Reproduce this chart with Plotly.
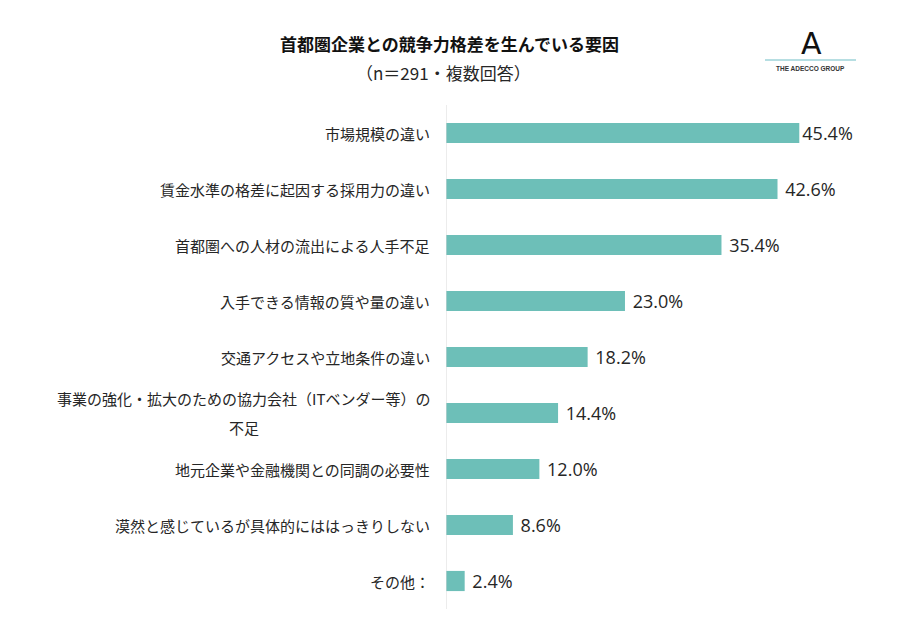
import plotly.graph_objects as go

# Data
categories = [
    "市場規模の違い",
    "賃金水準の格差に起因する採用力の違い",
    "首都圏への人材の流出による人手不足",
    "入手できる情報の質や量の違い",
    "交通アクセスや立地条件の違い",
    "事業の強化・拡大のための協力会社（ITベンダー等）の<br>不足",
    "地元企業や金融機関との同調の必要性",
    "漠然と感じているが具体的にははっきりしない",
    "その他：",
]
values = [45.4, 42.6, 35.4, 23.0, 18.2, 14.4, 12.0, 8.6, 2.4]
value_labels = ["%.1f%%" % v for v in values]

font_family = "Noto Sans CJK JP"
num_family = "Open Sans"
bar_color = "#6DBFB8"
text_color = "#262626"

# page is shown with an 8px body margin, so the figure is a bit smaller
OFF = 8
W = 897 - OFF
H = 640 - OFF
L, R, T, B = 446 - OFF, 23, 105 - OFF, 31
plot_w = W - L - R
plot_h = H - T - B


# helpers: page pixel -> paper coordinates
def px(x):
    return (x - OFF - L) / plot_w


def py(y):
    return (H - B - (y - OFF)) / plot_h


# gap between bar end and label, first one overlaps the bar like the original
label_text = [value_labels[0]] + ["\u00a0" + s for s in value_labels[1:]]

fig = go.Figure()

fig.add_trace(go.Bar(
    x=values,
    y=categories,
    orientation="h",
    marker=dict(color=bar_color, line=dict(width=0)),
    text=label_text,
    textposition="outside",
    constraintext="none",
    textfont=dict(size=18, color=text_color, family=num_family),
    cliponaxis=False,
    hoverinfo="skip",
))

annotations = []
# category labels; the wrapped one is split in two lines with wider spacing
label_font = dict(size=15, color=text_color, family=font_family)
for cat in categories:
    lines = cat.split("<br>")
    if len(lines) == 1:
        annotations.append(dict(
            x=0, xref="paper", y=cat, yref="y", text=cat, showarrow=False,
            xanchor="right", xshift=-14, font=label_font))
    else:
        annotations.append(dict(
            x=0, xref="paper", y=cat, yref="y", text=lines[0], showarrow=False,
            xanchor="right", xshift=-14, yshift=15, font=label_font))
        annotations.append(dict(
            x=px(244), xref="paper", y=cat, yref="y", text=lines[1],
            showarrow=False, xanchor="center", yshift=-14, font=label_font))

# title and subtitle
annotations.append(dict(
    text="<b>首都圏企業との競争力格差を生んでいる要因</b>",
    xref="paper", yref="paper", x=px(449), y=py(43),
    xanchor="center", yanchor="middle", showarrow=False,
    font=dict(size=17, color="#111111", family=font_family)))
annotations.append(dict(
    text="（n＝291・複数回答）",
    xref="paper", yref="paper", x=px(443), y=py(72),
    xanchor="center", yanchor="middle", showarrow=False,
    font=dict(size=17, color=text_color, family=font_family)))

# logo
annotations.append(dict(
    text="A", xref="paper", yref="paper", x=px(811), y=py(43),
    xanchor="center", yanchor="middle", showarrow=False,
    font=dict(size=30, color="#111111", family="DejaVu Sans")))
annotations.append(dict(
    text="<b>THE ADECCO GROUP</b>", xref="paper", yref="paper",
    x=px(810), y=py(68), xanchor="center", yanchor="middle", showarrow=False,
    font=dict(size=6.5, color="#333333", family="Liberation Sans")))

fig.update_layout(
    width=W,
    height=H,
    paper_bgcolor="white",
    plot_bgcolor="white",
    margin=dict(l=L, r=R, t=T, b=B),
    showlegend=False,
    bargap=0.64,
    xaxis=dict(range=[0, 55], visible=False, fixedrange=True),
    yaxis=dict(
        autorange="reversed",
        showticklabels=False,
        showgrid=False,
        zeroline=False,
        showline=False,
        fixedrange=True,
    ),
    annotations=annotations,
    shapes=[
        # vertical axis line
        dict(type="line", xref="x", yref="paper", x0=0, x1=0, y0=0, y1=1,
             line=dict(color="#D9D9D9", width=1)),
        # logo underline
        dict(type="line", xref="paper", yref="paper",
             x0=px(765), x1=px(856), y0=py(60), y1=py(60),
             line=dict(color="#9ED3D8", width=1.5)),
    ],
)

fig.write_html("out.html")
